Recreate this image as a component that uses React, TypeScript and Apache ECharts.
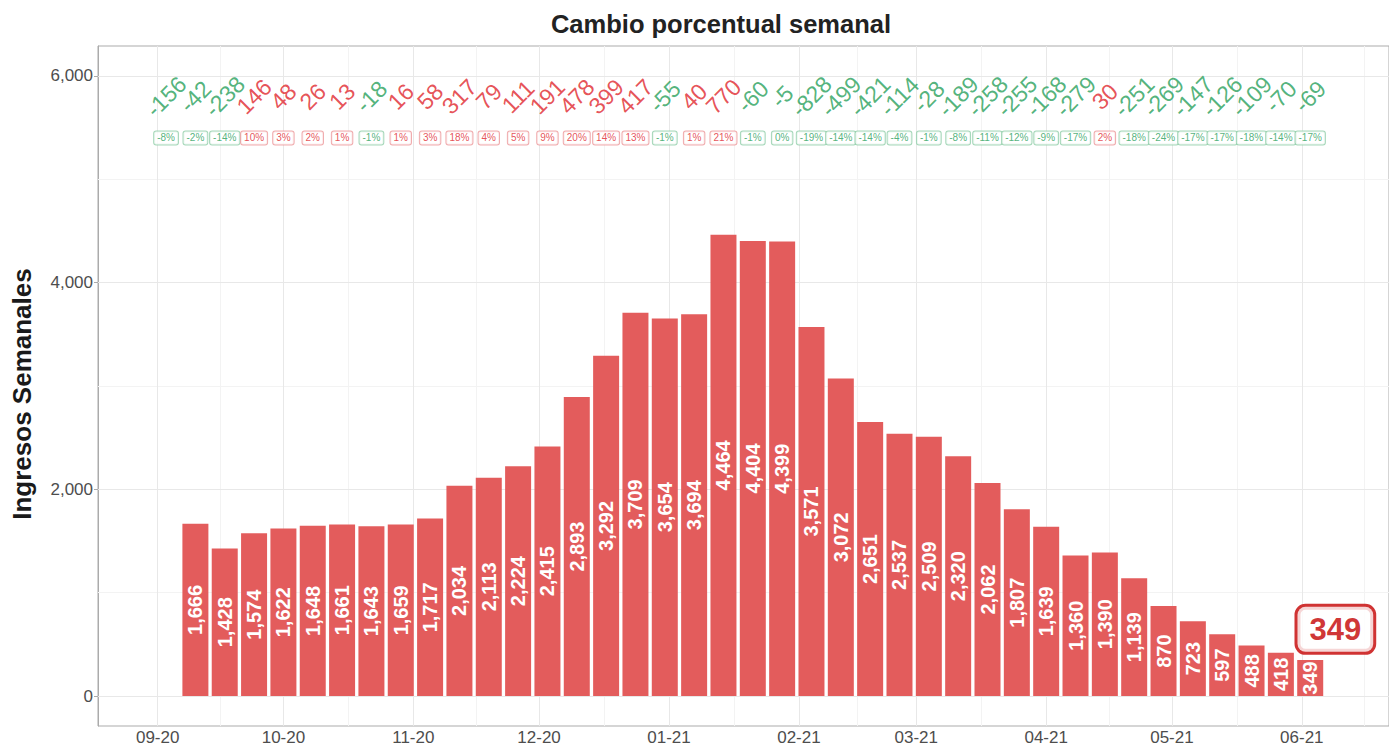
import React, { useEffect, useRef } from 'react';
import * as echarts from 'echarts';

const DAY = 86400000;
const FONT = '"Liberation Sans", Arial, Helvetica, sans-serif';

// first week of the series (Thursday), one week before the first visible bar
const firstWeek = '2020-09-03';

// weekly admissions (weeks 1..39; week 0 has no bar)
const weeklyAdmissions = [
  1666, 1428, 1574, 1622, 1648, 1661, 1643, 1659, 1717, 2034, 2113, 2224, 2415,
  2893, 3292, 3709, 3654, 3694, 4464, 4404, 4399, 3571, 3072, 2651, 2537, 2509,
  2320, 2062, 1807, 1639, 1360, 1390, 1139, 870, 723, 597, 488, 418, 349,
];

// weekly absolute change (weeks 0..39)
const weeklyChange = [
  -156, -42, -238, 146, 48, 26, 13, -18, 16, 58, 317, 79, 111, 191, 478, 399,
  417, -55, 40, 770, -60, -5, -828, -499, -421, -114, -28, -189, -258, -255,
  -168, -279, 30, -251, -269, -147, -126, -109, -70, -69,
];

// weekly percent change (weeks 0..39)
const weeklyPct = [
  -8, -2, -14, 10, 3, 2, 1, -1, 1, 3, 18, 4, 5, 9, 20, 14, 13, -1, 1, 21, -1, 0,
  -19, -14, -14, -4, -1, -8, -11, -12, -9, -17, 2, -18, -24, -17, -17, -18, -14,
  -17,
];

// month tick labels (month starts)
const monthStarts = [
  '2020-09-01', '2020-10-01', '2020-11-01', '2020-12-01', '2021-01-01',
  '2021-02-01', '2021-03-01', '2021-04-01', '2021-05-01', '2021-06-01',
  '2021-07-01',
];

const yTicks = [0, 2000, 4000, 6000];
const yMinorTicks = [1000, 3000, 5000];

// text rows (in data units)
const changeRowY = 5800;
const pctRowY = 5400;

const GREEN = '#27A05A';
const GREEN_BORDER = '#8FCDA8';
const RED = '#E0262D';
const RED_BORDER = '#EC9698';
const BAR = '#E35C5C';

const toTs = (s: string) => {
  const [y, m, d] = s.split('-').map(Number);
  return Date.UTC(y, m - 1, d);
};

export default function App() {
  const ref = useRef<HTMLDivElement>(null);

  useEffect(() => {
    if (!ref.current) return;
    const chart = echarts.init(ref.current, undefined, { renderer: 'svg' });

    const start = toTs(firstWeek);
    const weekDates = weeklyChange.map((_, i) => start + i * 7 * DAY);
    const months = monthStarts.map(toTs);
    const minorX = months.slice(0, -1).map((m, i) => (m + months[i + 1]) / 2);

    const xMin = months[0] - 14.24 * DAY;
    const xMax = months[0] + 293.8 * DAY;
    const visibleMonths = months.filter((v) => v > xMin && v < xMax);

    const barData = weeklyAdmissions.map((v, i) => [weekDates[i + 1], v]);

    const changeData = weeklyChange.map((c, i) => ({
      name: String(c),
      value: [weekDates[i], changeRowY],
      label: { color: c < 0 ? GREEN : RED },
    }));

    const isDown = (i: number) => weeklyChange[i] < 0;
    const pctData = weeklyPct.map((p, i) => ({
      name: `${p}%`,
      value: [weekDates[i], pctRowY],
      label: {
        color: isDown(i) ? GREEN : RED,
        borderColor: isDown(i) ? GREEN_BORDER : RED_BORDER,
      },
    }));

    const lastIdx = weeklyAdmissions.length - 1;
    const lastValue = weeklyAdmissions[lastIdx];
    const calloutData = [
      { name: String(lastValue), value: [weekDates[lastIdx + 1] + 6 * DAY, lastValue + 296] },
    ];

    const gridLines: any[] = [
      ...minorX
        .filter((v) => v > xMin && v < xMax)
        .map((v) => ({ xAxis: v, lineStyle: { color: '#F3F3F3', width: 1, type: 'solid' } })),
      ...yMinorTicks.map((v) => ({ yAxis: v, lineStyle: { color: '#F3F3F3', width: 1, type: 'solid' } })),
      ...visibleMonths.map((v) => ({ xAxis: v, lineStyle: { color: '#E8E8E8', width: 1, type: 'solid' } })),
      ...yTicks.map((v) => ({ yAxis: v, lineStyle: { color: '#E8E8E8', width: 1, type: 'solid' } })),
    ];

    const fmtMonth = (v: number) => {
      const d = new Date(v);
      const mm = String(d.getUTCMonth() + 1).padStart(2, '0');
      const yy = String(d.getUTCFullYear() % 100).padStart(2, '0');
      return `${mm}-${yy}`;
    };

    const option: any = {
      animation: false,
      backgroundColor: '#ffffff',
      textStyle: { fontFamily: FONT },
      title: {
        text: 'Cambio porcentual semanal',
        left: 716,
        textAlign: 'center',
        top: 6,
        textStyle: { fontFamily: FONT, fontSize: 25.5, fontWeight: 'bold', color: '#222222' },
      },
      grid: {
        left: 98,
        right: -2,
        top: 46,
        bottom: 20,
        show: true,
        borderColor: '#ABABAB',
        borderWidth: 1,
        backgroundColor: 'transparent',
      },
      xAxis: {
        type: 'value',
        min: xMin,
        max: xMax,
        axisLine: { show: true, lineStyle: { color: '#ABABAB', width: 1 } },
        axisTick: {
          show: true,
          customValues: visibleMonths,
          length: 4,
          lineStyle: { color: '#ABABAB' },
        },
        axisLabel: {
          customValues: visibleMonths,
          formatter: (v: number) => fmtMonth(v),
          fontFamily: FONT,
          fontSize: 17,
          color: '#4D4D4D',
          margin: 3,
          hideOverlap: false,
          showMinLabel: true,
          showMaxLabel: true,
        },
        splitLine: { show: false },
      },
      yAxis: {
        type: 'value',
        min: -290,
        max: 6290,
        name: 'Ingresos Semanales',
        nameLocation: 'middle',
        nameGap: 63,
        nameRotate: 90,
        nameTextStyle: {
          fontFamily: FONT,
          fontSize: 26,
          fontWeight: 'bold',
          color: '#1A1A1A',
          padding: [0, 16, 0, 0],
        },
        axisLine: { show: true, lineStyle: { color: '#ABABAB', width: 1 } },
        axisTick: {
          show: true,
          customValues: yTicks,
          length: 4,
          lineStyle: { color: '#ABABAB' },
        },
        axisLabel: {
          customValues: yTicks,
          formatter: (v: number) => v.toLocaleString('en-US'),
          fontFamily: FONT,
          fontSize: 17,
          color: '#4D4D4D',
          margin: 5,
        },
        splitLine: { show: false },
      },
      series: [
        {
          type: 'bar',
          z: 3,
          data: barData,
          barWidth: 26,
          itemStyle: { color: BAR },
          label: {
            show: true,
            position: 'inside',
            rotate: 90,
            formatter: (p: any) => Number(p.value[1]).toLocaleString('en-US'),
            color: '#FFFFFF',
            fontFamily: FONT,
            fontWeight: 'bold',
            fontSize: 20,
          },
          markLine: {
            z: 1,
            silent: true,
            symbol: ['none', 'none'],
            label: { show: false },
            emphasis: { disabled: true },
            data: gridLines,
          },
        },
        {
          type: 'scatter',
          z: 4,
          symbolSize: 1,
          itemStyle: { color: 'rgba(0,0,0,0)' },
          data: changeData,
          label: {
            show: true,
            position: 'inside',
            rotate: 45,
            formatter: '{b}',
            fontFamily: FONT,
            fontSize: 23,
          },
        },
        {
          type: 'scatter',
          z: 4,
          symbolSize: 1,
          itemStyle: { color: 'rgba(0,0,0,0)' },
          data: pctData,
          label: {
            show: true,
            position: 'inside',
            formatter: '{b}',
            fontFamily: FONT,
            fontSize: 10,
            lineHeight: 10,
            padding: [2, 3, 1, 3],
            borderWidth: 1,
            borderRadius: 2,
            backgroundColor: '#FFFFFF',
          },
        },
        {
          type: 'scatter',
          z: 5,
          symbolSize: 1,
          itemStyle: { color: 'rgba(0,0,0,0)' },
          data: calloutData,
          label: {
            show: true,
            position: 'inside',
            formatter: '{b}',
            fontFamily: FONT,
            fontSize: 31,
            fontWeight: 'bold',
            color: '#C40000',
            lineHeight: 32,
            padding: [7, 12, 6, 12],
            borderColor: '#C40000',
            borderWidth: 3,
            borderRadius: 8,
            backgroundColor: '#FFFFFF',
          },
        },
      ],
    };

    chart.setOption(option);
    return () => chart.dispose();
  }, []);

  return (
    <div
      ref={ref}
      style={{ position: 'fixed', left: 0, top: 0, width: 1389, height: 746 }}
    />
  );
}
